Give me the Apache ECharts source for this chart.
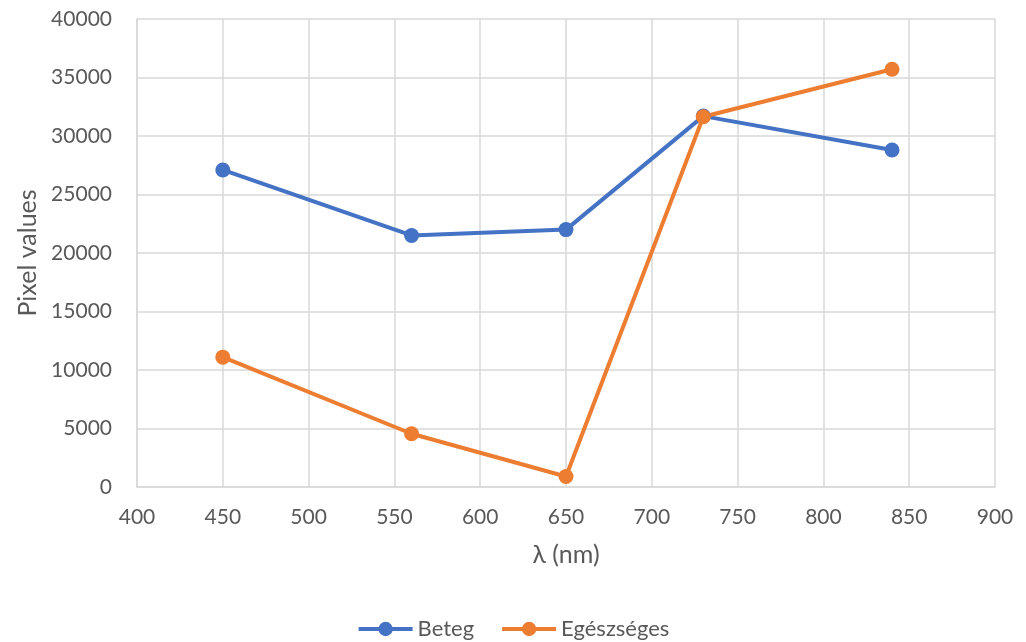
<!DOCTYPE html>
<html><head><meta charset="utf-8">
<script src="https://cdn.jsdelivr.net/npm/echarts@6/dist/echarts.min.js"></script>
<style>html,body{margin:0;padding:0;background:#fff}#c{width:1026px;height:642px}</style>
</head><body><div id="c"></div>
<script>
const wavelengths = [450, 560, 650, 730, 840];
const beteg = [27100, 21500, 22000, 31700, 28800];
const egeszseges = [11100, 4550, 900, 31650, 35700];
const seriesNames = ['Beteg', 'Egészséges'];
const colors = ['#4472C4', '#ED7D31'];
const FONT = 'Lato, "Liberation Sans", sans-serif';

const chart = echarts.init(document.getElementById('c'));
function pairs(vals){ return wavelengths.map((w,i)=>[w, vals[i]]); }
chart.setOption({
  animation: false,
  textStyle: {fontFamily: FONT},
  grid: {left: 137, right: 31, top: 19, bottom: 155, containLabel: false},
  xAxis: {
    type: 'value', min: 400, max: 900, interval: 50,
    name: 'λ (nm)', nameLocation: 'middle', nameGap: 55,
    nameTextStyle: {fontSize: 25, color: '#595959', fontFamily: FONT},
    axisLine: {show: true, lineStyle: {color: '#D9D9D9', width: 1.5}},
    axisTick: {show: false},
    axisLabel: {fontSize: 21, color: '#595959', margin: 20},
    splitLine: {show: true, lineStyle: {color: '#D9D9D9', width: 1.5}}
  },
  yAxis: {
    type: 'value', min: 0, max: 40000, interval: 5000,
    name: 'Pixel values', nameLocation: 'middle', nameGap: 92,
    nameTextStyle: {fontSize: 25, color: '#595959', fontFamily: FONT},
    axisLine: {show: true, lineStyle: {color: '#D9D9D9', width: 1.5}},
    axisTick: {show: false},
    axisLabel: {fontSize: 21, color: '#595959', margin: 25, formatter: v => String(v)},
    splitLine: {show: true, lineStyle: {color: '#D9D9D9', width: 1.5}}
  },
  legend: {
    bottom: -3, left: 'center', itemWidth: 54, itemHeight: 18, itemGap: 26,
    textStyle: {fontSize: 22, color: '#595959', fontFamily: FONT},
    lineStyle: {width: 4},
    data: seriesNames
  },
  series: [
    {name: seriesNames[0], type: 'line', data: pairs(beteg), color: colors[0],
     symbol: 'circle', symbolSize: 15, lineStyle: {width: 4}},
    {name: seriesNames[1], type: 'line', data: pairs(egeszseges), color: colors[1],
     symbol: 'circle', symbolSize: 15, lineStyle: {width: 4}}
  ]
});
</script></body></html>
